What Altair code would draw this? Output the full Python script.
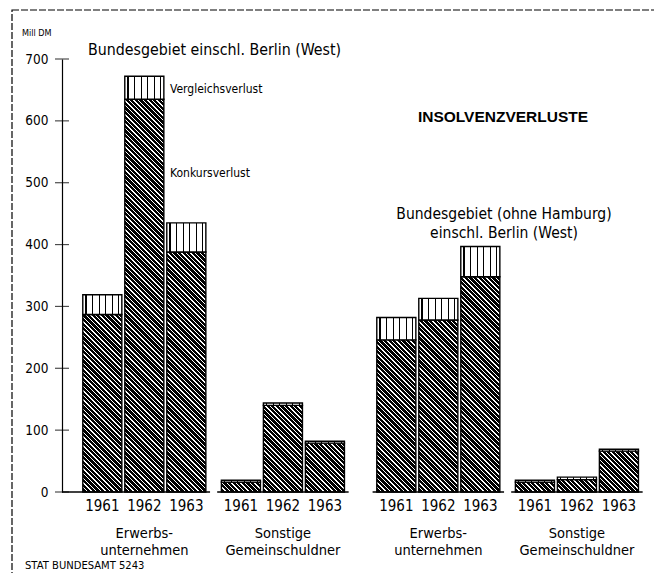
import altair as alt
import pandas as pd

# ---------------- data (Mill DM) ----------------
years = ["1961", "1962", "1963"]
groups = ["Erwerbs-\nunternehmen", "Sonstige\nGemeinschuldner"]
regions = ["Bundesgebiet einschl. Berlin (West)",
           "Bundesgebiet (ohne Hamburg)\neinschl. Berlin (West)"]

konkurs_r1_erwerb = [287, 635, 388]
vergleich_r1_erwerb = [32, 37, 47]
konkurs_r1_sonst = [16, 140, 79]
vergleich_r1_sonst = [3, 4, 3]

konkurs_r2_erwerb = [246, 278, 348]
vergleich_r2_erwerb = [36, 35, 49]
konkurs_r2_sonst = [16, 20, 66]
vergleich_r2_sonst = [3, 4, 3]

y_ticks = [0, 100, 200, 300, 400, 500, 600, 700]

# ---------------- layout / style ----------------
W, H = 588, 433
YMAX, XMAX = 700, 14
LEAD, GROUP_EXTRA, REGION_EXTRA, BAR_W = 0.96, 0.30, 0.70, 0.93
NARROW = "Liberation Sans Narrow, DejaVu Sans Condensed, Roboto Condensed, sans-serif"
px_per_x = W / XMAX
px_per_y = H / YMAX

konkurs = [konkurs_r1_erwerb, konkurs_r1_sonst, konkurs_r2_erwerb, konkurs_r2_sonst]
vergleich = [vergleich_r1_erwerb, vergleich_r1_sonst, vergleich_r2_erwerb, vergleich_r2_sonst]

rows, grows = [], []
idx = 0
for gi in range(4):
    r, g = gi // 2, gi % 2
    centers = []
    for k in range(3):
        c = LEAD + gi * 3 + k + (gi) * GROUP_EXTRA + r * (REGION_EXTRA - GROUP_EXTRA)
        centers.append(c)
        kv = konkurs[gi][k]
        vv = vergleich[gi][k]
        rows.append(dict(id=idx, year=years[k], xc=c, x0=c - BAR_W / 2, x1=c + BAR_W / 2,
                         base=0, konkurs=kv, total=kv + vv))
        idx += 1
    gstart = 0 if gi == 0 else centers[0] - BAR_W / 2 - 0.1
    grows.append(dict(label=groups[g], gc=sum(centers) / 3, gx0=gstart,
                      gx1=centers[-1] + BAR_W / 2 + 0.1, zero=0))
df = pd.DataFrame(rows)
gdf = pd.DataFrame(grows)
tdf = pd.DataFrame({"v": y_ticks})


def hatch(w, h, period=4.6, white=1.4):
    L = w + h
    k = L / (w * w + h * h)
    stops = []
    pos = 0.0
    while pos < L:
        a = pos / L
        b = min((pos + white) / L, 1.0)
        c = min((pos + period) / L, 1.0)
        stops += [{"offset": a, "color": "white"}, {"offset": b, "color": "white"},
                  {"offset": b, "color": "black"}, {"offset": c, "color": "black"}]
        pos += period
    return {"gradient": "linear", "x1": 0, "y1": 1, "x2": k * w, "y2": 1 - k * h,
            "stops": stops}


def vstripes(n=6, half=0.014):
    stops = [{"offset": 0, "color": "white"}]
    for i in range(n):
        t = (i + 0.5) / n
        stops += [{"offset": t - half, "color": "white"}, {"offset": t - half, "color": "black"},
                  {"offset": t + half, "color": "black"}, {"offset": t + half, "color": "white"}]
    stops.append({"offset": 1, "color": "white"})
    return {"gradient": "linear", "x1": 0, "y1": 0, "x2": 1, "y2": 0, "stops": stops}


bar_w_px = BAR_W * px_per_x
conds = [{"test": f"datum.id === {r['id']}",
          "value": hatch(bar_w_px, r["konkurs"] * px_per_y)} for r in rows]

xscale = alt.Scale(domain=[0, XMAX], nice=False, zero=False)
yscale = alt.Scale(domain=[0, YMAX], nice=False)

base = alt.Chart(df)

konk = base.mark_bar(stroke="black", strokeWidth=1.4).encode(
    x=alt.X("x0:Q", scale=xscale, axis=None),
    x2="x1:Q",
    y=alt.Y("base:Q", scale=yscale,
            axis=alt.Axis(values=y_ticks, ticks=False, grid=False, domain=True,
                          domainColor="black", domainWidth=1.2, labelPadding=14,
                          labelFont=NARROW, labelFontSize=13.5, labelColor="black",
                          title=None, format="d")),
    y2="konkurs:Q",
    fill={"condition": conds, "value": "#222"},
)

verg = base.mark_bar(stroke="black", strokeWidth=1.4, fill=vstripes()).encode(
    x=alt.X("x0:Q", scale=xscale), x2="x1:Q",
    y=alt.Y("konkurs:Q", scale=yscale), y2="total:Q",
)

ticks = alt.Chart(tdf).mark_tick(size=14, thickness=1.2, color="black",
                                 orient="horizontal").encode(
    y=alt.Y("v:Q", scale=yscale), x=alt.value(0))

baselines = alt.Chart(gdf).mark_rule(color="black", strokeWidth=1.5).encode(
    x=alt.X("gx0:Q", scale=xscale), x2="gx1:Q", y=alt.Y("zero:Q", scale=yscale))

year_text = base.mark_text(font=NARROW, fontSize=15, baseline="middle",
                           color="black").encode(
    x=alt.X("xc:Q", scale=xscale), y=alt.value(H + 14), text="year:N")

group_text = alt.Chart(gdf).mark_text(font=NARROW, fontSize=14.5, lineBreak="\n",
                                      lineHeight=16.5, baseline="middle",
                                      color="black").encode(
    x=alt.X("gc:Q", scale=xscale), y=alt.value(H + 42), text="label:N")

one = pd.DataFrame({"a": [0]})


def label(txt, x, y, size, align="left", weight="normal", font=NARROW):
    return alt.Chart(one).mark_text(text=txt, font=font, fontSize=size, align=align,
                                    baseline="middle", fontWeight=weight, color="black",
                                    lineBreak="\n", lineHeight=19).encode(
        x=alt.value(x), y=alt.value(y))


texts = [
    label("Mill DM", -40, -26, 9),
    label(regions[0], 26, -9, 15.8),
    label("Vergleichsverlust", 108, 30, 12),
    label("Konkursverlust", 108, 114, 12),
    label("INSOLVENZVERLUSTE", 441, 58, 15.5, align="center", weight="bold",
          font="Liberation Sans, Arial, sans-serif"),
    label(regions[1], 442, 154.5, 15.5, align="center"),
    label("STAT  BUNDESAMT 5243", -37, 507, 10, font="DejaVu Sans, sans-serif"),
]

frame = alt.Chart(one).mark_rect(filled=False, stroke="black", strokeWidth=1.2,
                                 strokeDash=[7, 2]).encode(
    x=alt.value(-50), x2=alt.value(595), y=alt.value(-49), y2=alt.value(540))

chart = alt.layer(frame, konk, verg, ticks, baselines, year_text, group_text,
                  *texts).properties(
    width=W, height=H,
    autosize=alt.AutoSizeParams(type="none"),
    padding={"left": 54, "top": 51, "right": 4, "bottom": 81},
    background="white",
).configure_view(stroke=None)

chart.save("out.html", embed_options={"renderer": "svg", "actions": False})
